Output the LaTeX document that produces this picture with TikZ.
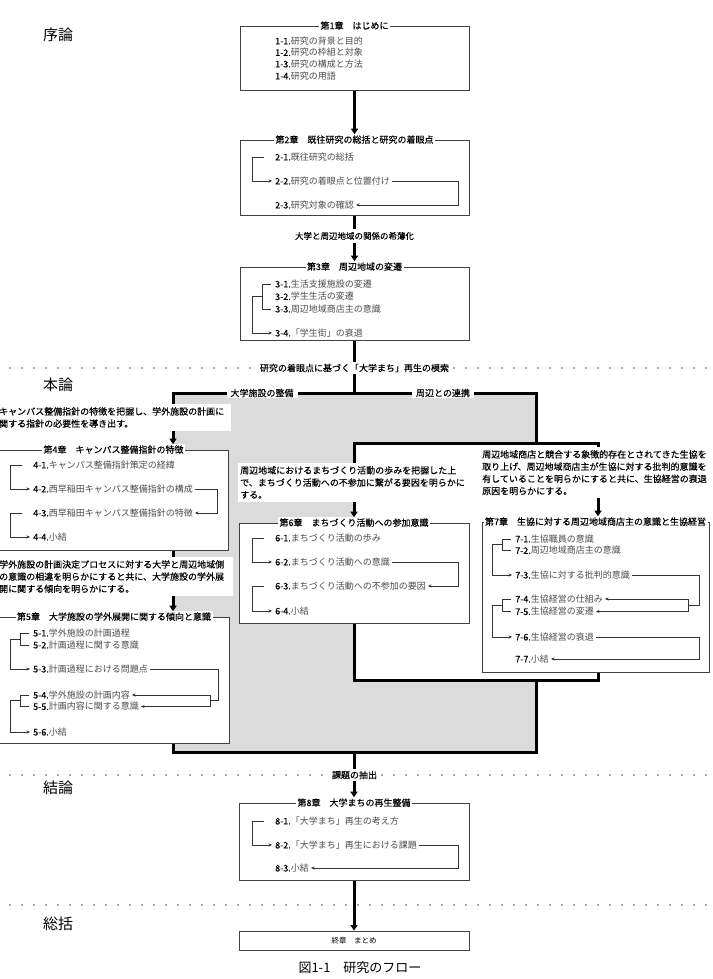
\documentclass[tikz,border=0pt]{standalone}
\usepackage{fontspec}
\setmainfont{Noto Sans CJK JP}
\newfontfamily\jpmedium[FakeBold=0.25]{Noto Sans CJK JP}
\usetikzlibrary{arrows.meta,calc}
\pgfdeclarelayer{back}
\pgfdeclarelayer{wires}
\pgfsetlayers{back,wires,main}

\begin{document}
\begin{tikzpicture}[x=1pt,y=-1pt,
	chapbox/.style={draw=black!75,line width=0.8pt,fill=white,inner sep=0pt},
	chaptitle/.style={fill=white,inner xsep=1.5pt,inner ysep=1pt,font=\jpmedium\fontsize{9}{10}\selectfont},
	item/.style={anchor=west,inner xsep=2pt,inner ysep=1pt,font=\fontsize{9}{10}\selectfont},
	desc/.style={anchor=north west,fill=white,align=left,inner xsep=2pt,inner ysep=3pt,font=\jpmedium\fontsize{9}{12.2}\selectfont},
	part/.style={font=\fontsize{15}{15}\selectfont},
	flowlabel/.style={fill=white,inner xsep=4pt,inner ysep=2pt,font=\jpmedium\fontsize{9}{10}\selectfont},
	flow/.style={line width=3pt,line join=miter,>={Triangle[width=7pt,length=5.5pt]}},
	brk/.style={line width=0.7pt,draw=black!80,>={Stealth[length=3.5pt,width=3pt]}},
	sepline/.style={line width=1.7pt,black!70,line cap=round,dash pattern=on 0pt off 12pt},
	graybg/.style={fill=black!14}]
	\useasboundingbox (0,0) rectangle (712,979);

	% part headings
	\node[part] (p1) at (58,35) {序論};
	\node[part] (p2) at (58,385) {本論};
	\node[part] (p3) at (58,788) {結論};
	\node[part] (p4) at (58,924) {総括};

	% chapter 1
	\node[chapbox,minimum width=229pt,minimum height=64pt] (c1) at (354.5,58) {};
	\node[chaptitle] (t1) at (c1.north) {第1章　はじめに};
	\foreach \n/\y/\t in {1/41/研究の背景と目的,2/52.5/研究の枠組と対象,3/64/研究の構成と方法,4/76/研究の用語}
		\node[item] (i1\n) at (273,\y) {{\jpmedium 1-\n.}\textcolor{black!70}{\t}};

	% chapter 2
	\node[chapbox,minimum width=229pt,minimum height=75pt] (c2) at (354.5,177.5) {};
	\node[chaptitle] (t2) at (c2.north) {第2章　既往研究の総括と研究の着眼点};
	\foreach \n/\y/\t in {1/157/既往研究の総括,2/181/研究の着眼点と位置付け,3/205/研究対象の確認}
		\node[item] (i2\n) at (273,\y) {{\jpmedium 2-\n.}\textcolor{black!70}{\t}};

	% chapter 3
	\node[chapbox,minimum width=229pt,minimum height=73pt] (c3) at (354.5,303.5) {};
	\node[chaptitle] (t3) at (c3.north) {第3章　周辺地域の変遷};
	\foreach \n/\y/\t in {1/284/生活支援施設の変遷,2/296.5/学生生活の変遷,3/309/周辺地域商店主の意識,4/333/「学生街」の衰退}
		\node[item] (i3\n) at (273,\y) {{\jpmedium 3-\n.}\textcolor{black!70}{\t}};

	% branch labels
	\node[flowlabel,font=\jpmedium\fontsize{8.5}{10}\selectfont,inner ysep=3.5pt] (l1) at (354.5,236) {大学と周辺地域の関係の希薄化};
	\node[flowlabel] (l2) at (354.5,368) {研究の着眼点に基づく「大学まち」再生の模索};
	\node[flowlabel,inner ysep=1pt] (l3) at (262,393) {大学施設の整備};
	\node[flowlabel,inner ysep=1pt] (l4) at (443,393) {周辺との連携};
	\node[flowlabel] (l5) at (354.5,775) {課題の抽出};

	% chapter 4
	\node[desc,text width=230pt] (d4) at (-3,404) {キャンパス整備指針の特徴を把握し、学外施設の計画に\\関する指針の必要性を導き出す。};
	\node[chapbox,minimum width=229pt,minimum height=100pt] (c4) at (113.5,500) {};
	\node[chaptitle] (t4) at (c4.north) {第4章　キャンパス整備指針の特徴};
	\foreach \n/\y/\t in {1/465/キャンパス整備指針策定の経緯,2/489/西早稲田キャンパス整備指針の構成,3/513/西早稲田キャンパス整備指針の特徴,4/537/小結}
		\node[item] (i4\n) at (31,\y) {{\jpmedium 4-\n.}\textcolor{black!70}{\t}};

	% chapter 5
	\node[desc,text width=232pt] (d5) at (-3,557) {学外施設の計画決定プロセスに対する大学と周辺地域側\\の意識の相違を明らかにすると共に、大学施設の学外展\\開に関する傾向を明らかにする。};
	\node[chapbox,minimum width=230pt,minimum height=126pt] (c5) at (114,680) {};
	\node[chaptitle] (t5) at (c5.north) {第5章　大学施設の学外展開に関する傾向と意識};
	\foreach \n/\y/\t in {1/633/学外施設の計画過程,2/645/計画過程に関する意識,3/669/計画過程における問題点,4/695/学外施設の計画内容,5/706.5/計画内容に関する意識,6/732/小結}
		\node[item] (i5\n) at (31,\y) {{\jpmedium 5-\n.}\textcolor{black!70}{\t}};

	% chapter 6
	\node[desc,text width=228pt] (d6) at (238,463) {周辺地域におけるまちづくり活動の歩みを把握した上\\で、まちづくり活動への不参加に繋がる要因を明らかに\\する。};
	\node[chapbox,minimum width=230pt,minimum height=100pt] (c6) at (354,573) {};
	\node[chaptitle] (t6) at (c6.north) {第6章　まちづくり活動への参加意識};
	\foreach \n/\y/\t in {1/538/まちづくり活動の歩み,2/562/まちづくり活動への意識,3/586/まちづくり活動への不参加の要因,4/611/小結}
		\node[item] (i6\n) at (273,\y) {{\jpmedium 6-\n.}\textcolor{black!70}{\t}};

	% chapter 7
	\node[desc,text width=230pt] (d7) at (480,447) {周辺地域商店と競合する象徴的存在とされてきた生協を\\取り上げ、周辺地域商店主が生協に対する批判的意識を\\有していることを明らかにすると共に、生協経営の衰退\\原因を明らかにする。};
	\node[chapbox,minimum width=227pt,minimum height=150pt] (c7) at (595.5,597) {};
	\node[chaptitle] (t7) at (c7.north) {第7章　生協に対する周辺地域商店主の意識と生協経営};
	\foreach \n/\y/\t in {1/539/生協職員の意識,2/550.5/周辺地域商店主の意識,3/575/生協に対する批判的意識,4/599/生協経営の仕組み,5/611.5/生協経営の変遷,6/637/生協経営の衰退,7/659/小結}
		\node[item] (i7\n) at (513,\y) {{\jpmedium 7-\n.}\textcolor{black!70}{\t}};

	% chapter 8
	\node[chapbox,minimum width=230pt,minimum height=77pt] (c8) at (354,841.5) {};
	\node[chaptitle] (t8) at (c8.north) {第8章　大学まちの再生整備};
	\foreach \n/\y/\t in {1/821/「大学まち」再生の考え方,2/845/「大学まち」再生における課題,3/868/小結}
		\node[item] (i8\n) at (273,\y) {{\jpmedium 8-\n.}\textcolor{black!70}{\t}};

	% final chapter and caption
	\node[chapbox,minimum width=230pt,minimum height=19pt,font=\fontsize{7.5}{8}\selectfont] (e) at (354,940.5) {終章　まとめ};
	\node[font=\fontsize{13}{14}\selectfont] (cap) at (360,968) {図1-1　研究のフロー};

	% rails of the inner brackets
	\coordinate (r2) at ([xshift=-11pt]c2.east);
	\coordinate (r4) at ([xshift=-11pt]c4.east);
	\coordinate (r5) at ([xshift=-11pt]c5.east);
	\coordinate (q5) at ([xshift=-19pt]c5.east);
	\coordinate (r6) at ([xshift=-11pt]c6.east);
	\coordinate (r7) at ([xshift=-10pt]c7.east);
	\coordinate (q7) at ([xshift=-21pt]c7.east);
	\coordinate (r8) at ([xshift=-11pt]c8.east);
	\coordinate (m51) at ($(i51.west)!.5!(i52.west)$);
	\coordinate (m54) at ($(i54.west)!.5!(i55.west)$);
	\coordinate (m71) at ($(i71.west)!.5!(i72.west)$);
	\coordinate (m74) at ($(i74.west)!.5!(i75.west)$);

	% chapter 2 brackets
	\draw[brk,->] ([xshift=-9pt]i21.west) -| ([xshift=-21pt]i22.west) -- ([xshift=-1pt]i22.west);
	\draw[brk,->] (i22.east) -| (r2 |- i23.east) -- (i23.east);
	% chapter 3 brackets
	\draw[brk] ([xshift=-2pt]i31.west) -- ([xshift=-11pt]i31.west) -- ([xshift=-11pt]i33.west) -- ([xshift=-2pt]i33.west);
	\draw[brk,->] ([xshift=-11pt]i32.west) -| ([xshift=-21pt]i34.west) -- ([xshift=-1pt]i34.west);
	% chapter 4 brackets
	\draw[brk,->] ([xshift=-9pt]i41.west) -| ([xshift=-21pt]i42.west) -- ([xshift=-1pt]i42.west);
	\draw[brk,->] (i42.east) -| (r4 |- i43.east) -- (i43.east);
	\draw[brk,->] ([xshift=-9pt]i43.west) -| ([xshift=-21pt]i44.west) -- ([xshift=-1pt]i44.west);
	% chapter 5 brackets
	\draw[brk] ([xshift=-2pt]i51.west) -- ([xshift=-11pt]i51.west) -- ([xshift=-11pt]i52.west) -- ([xshift=-2pt]i52.west);
	\draw[brk,->] ([xshift=-11pt]m51) -| ([xshift=-21pt]i53.west) -- ([xshift=-1pt]i53.west);
	\draw[brk] (i53.east) -| (r5 |- m54) -- (q5 |- m54);
	\draw[brk,<->] (i54.east) -- (q5 |- i54.east) -- (q5 |- i55.east) -- (i55.east);
	\draw[brk] ([xshift=-2pt]i54.west) -- ([xshift=-11pt]i54.west) -- ([xshift=-11pt]i55.west) -- ([xshift=-2pt]i55.west);
	\draw[brk,->] ([xshift=-11pt]m54) -| ([xshift=-21pt]i56.west) -- ([xshift=-1pt]i56.west);
	% chapter 6 brackets
	\draw[brk,->] ([xshift=-9pt]i61.west) -| ([xshift=-21pt]i62.west) -- ([xshift=-1pt]i62.west);
	\draw[brk,->] (i62.east) -| (r6 |- i63.east) -- (i63.east);
	\draw[brk,->] ([xshift=-9pt]i63.west) -| ([xshift=-21pt]i64.west) -- ([xshift=-1pt]i64.west);
	% chapter 7 brackets
	\draw[brk] ([xshift=-2pt]i71.west) -- ([xshift=-11pt]i71.west) -- ([xshift=-11pt]i72.west) -- ([xshift=-2pt]i72.west);
	\draw[brk,->] ([xshift=-11pt]m71) -| ([xshift=-21pt]i73.west) -- ([xshift=-1pt]i73.west);
	\draw[brk] (i73.east) -| (r7 |- m74) -- (q7 |- m74);
	\draw[brk,<->] (i74.east) -- (q7 |- i74.east) -- (q7 |- i75.east) -- (i75.east);
	\draw[brk] ([xshift=-2pt]i74.west) -- ([xshift=-11pt]i74.west) -- ([xshift=-11pt]i75.west) -- ([xshift=-2pt]i75.west);
	\draw[brk,->] ([xshift=-11pt]m74) -| ([xshift=-21pt]i76.west) -- ([xshift=-1pt]i76.west);
	\draw[brk,->] (i76.east) -| (r7 |- i77.east) -- (i77.east);
	% chapter 8 brackets
	\draw[brk,->] ([xshift=-9pt]i81.west) -| ([xshift=-21pt]i82.west) -- ([xshift=-1pt]i82.west);
	\draw[brk,->] (i82.east) -| (r8 |- i83.east) -- (i83.east);

	% main flow
	\coordinate (jm) at (354.5,393);
	\coordinate (jl) at (173,393);
	\coordinate (jr) at (536,393);
	\coordinate (kl) at (354,443);
	\coordinate (kr) at (598,443);
	\coordinate (bl) at (354,680);
	\coordinate (br) at (598,680);
	\coordinate (bm) at (536,680);
	\coordinate (zl) at (173,752);
	\coordinate (zr) at (536,752);
	\coordinate (zm) at (354,752);
	\begin{pgfonlayer}{back}
		\fill[graybg] (jl) -- (jr) -- (jr |- kl) -- (kl) -- (bl) -- (bm) -- (zr) -- (zl) -- cycle;
		\draw[sepline] (10,368) -- (712,368);
		\draw[sepline] (10,775) -- (712,775);
		\draw[sepline] (10,905) -- (712,905);
	\end{pgfonlayer}
	\begin{pgfonlayer}{wires}
		\draw[flow,->] (c1.south) -- (t2.north);
		\draw[flow,->] (c2.south) -- (t3.north);
		\draw[flow] (c3.south) -- (jm);
		\draw[flow,<-] (jl |- t4.north) -- (jl) -- (jr) -- (jr |- kl);
		\draw[flow,<->] (kl |- t6.north) -- (kl) -- (kr) -- (kr |- t7.north);
		\draw[flow,->] (jl |- c4.south) -- (jl |- t5.north);
		\draw[flow] (jl |- c5.south) -- (zl) -- (zr) -- (bm);
		\draw[flow] (c6.south -| bl) -- (bl) -- (br) -- (c7.south -| br);
		\draw[flow,->] (zm) -- (t8.north);
		\draw[flow,->] (c8.south) -- (e.north);
	\end{pgfonlayer}
\end{tikzpicture}
\end{document}
